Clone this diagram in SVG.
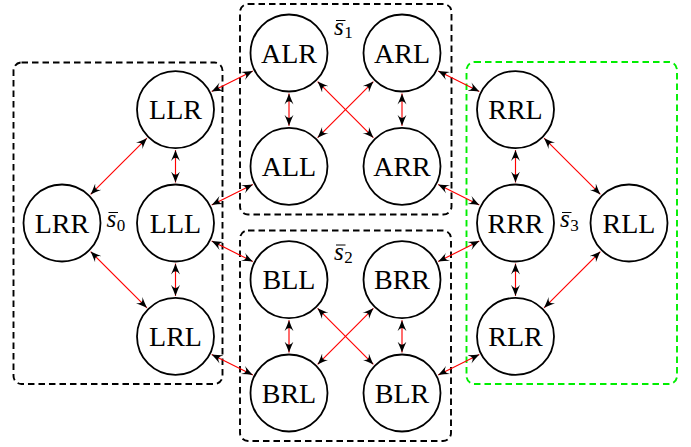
<svg xmlns="http://www.w3.org/2000/svg" width="691" height="447" viewBox="0 0 691 447">
<style>
.n circle{fill:#fff;stroke:#000;stroke-width:1.8}
.n text{font-family:"Liberation Serif","DejaVu Serif",serif;font-size:28px;text-anchor:middle;fill:#000}
.box{fill:none;stroke:#000;stroke-width:1.9;stroke-dasharray:6.5 4}
.box.g{stroke:#00ee00}
#edges line{stroke:#ff0000;stroke-width:1.15;marker-start:url(#ah);marker-end:url(#ah)}
.lbl text{font-family:"Liberation Serif","DejaVu Serif",serif;fill:#000}
.lbl .s{font-style:italic;font-size:25px}
.lbl .sub{font-size:17px}
.lbl line{stroke:#000;stroke-width:1}
</style>
<defs>
<marker id="ah" viewBox="0 0 11 10" refX="11" refY="5" markerWidth="11" markerHeight="10" markerUnits="userSpaceOnUse" orient="auto-start-reverse">
<path d="M11,5 Q5.5,3 0,0.5 Q3.3,3 3.3,5 Q3.3,7 0,9.5 Q5.5,7 11,5 Z" fill="#000"/>
</marker>
</defs>
<g id="groups">
<rect id="box-s0" class="box" x="13.5" y="62.5" width="209" height="321.5" rx="8"/>
<rect id="box-s1" class="box" x="240" y="4" width="211.5" height="210.5" rx="8"/>
<rect id="box-s2" class="box" x="240" y="230.5" width="211" height="210.5" rx="8"/>
<rect id="box-s3" class="box g" x="466.5" y="62" width="210.5" height="322" rx="8"/>
</g>
<g id="edges">
<line x1="90.6" y1="194.4" x2="146.9" y2="138.2"/>
<line x1="90.6" y1="251.6" x2="146.9" y2="307.8"/>
<line x1="175.5" y1="150.1" x2="175.5" y2="182.5"/>
<line x1="175.5" y1="263.5" x2="175.5" y2="295.9"/>
<line x1="211.7" y1="91.5" x2="252.8" y2="71.1"/>
<line x1="211.7" y1="204.9" x2="252.8" y2="184.4"/>
<line x1="211.7" y1="241.1" x2="252.8" y2="261.6"/>
<line x1="211.7" y1="354.5" x2="252.8" y2="374.9"/>
<line x1="289" y1="93.5" x2="289" y2="125.8"/>
<line x1="402" y1="93.5" x2="402" y2="125.8"/>
<line x1="317.6" y1="81.6" x2="373.4" y2="137.7"/>
<line x1="373.4" y1="81.6" x2="317.6" y2="137.7"/>
<line x1="289" y1="320.2" x2="289" y2="352.5"/>
<line x1="402" y1="320.2" x2="402" y2="352.5"/>
<line x1="317.6" y1="308.3" x2="373.4" y2="364.4"/>
<line x1="373.4" y1="308.3" x2="317.6" y2="364.4"/>
<line x1="438.2" y1="71.1" x2="479.3" y2="91.5"/>
<line x1="438.2" y1="184.4" x2="479.3" y2="204.9"/>
<line x1="438.2" y1="261.6" x2="479.3" y2="241.1"/>
<line x1="438.2" y1="374.9" x2="479.3" y2="354.5"/>
<line x1="515.5" y1="150.1" x2="515.5" y2="182.5"/>
<line x1="515.5" y1="263.5" x2="515.5" y2="295.9"/>
<line x1="544.1" y1="138.2" x2="600.4" y2="194.4"/>
<line x1="600.4" y1="251.6" x2="544.1" y2="307.8"/>
</g>
<g id="LRR" class="n"><circle cx="62" cy="223" r="38.5"/><text x="62" y="232.5">LRR</text></g>
<g id="LLR" class="n"><circle cx="175.5" cy="109.6" r="38.5"/><text x="175.5" y="119.1">LLR</text></g>
<g id="LLL" class="n"><circle cx="175.5" cy="223" r="38.5"/><text x="175.5" y="232.5">LLL</text></g>
<g id="LRL" class="n"><circle cx="175.5" cy="336.4" r="38.5"/><text x="175.5" y="345.9">LRL</text></g>
<g id="ALR" class="n"><circle cx="289" cy="53" r="38.5"/><text x="289" y="62.5">ALR</text></g>
<g id="ARL" class="n"><circle cx="402" cy="53" r="38.5"/><text x="402" y="62.5">ARL</text></g>
<g id="ALL" class="n"><circle cx="289" cy="166.3" r="38.5"/><text x="289" y="175.8">ALL</text></g>
<g id="ARR" class="n"><circle cx="402" cy="166.3" r="38.5"/><text x="402" y="175.8">ARR</text></g>
<g id="BLL" class="n"><circle cx="289" cy="279.7" r="38.5"/><text x="289" y="289.2">BLL</text></g>
<g id="BRR" class="n"><circle cx="402" cy="279.7" r="38.5"/><text x="402" y="289.2">BRR</text></g>
<g id="BRL" class="n"><circle cx="289" cy="393" r="38.5"/><text x="289" y="402.5">BRL</text></g>
<g id="BLR" class="n"><circle cx="402" cy="393" r="38.5"/><text x="402" y="402.5">BLR</text></g>
<g id="RRL" class="n"><circle cx="515.5" cy="109.6" r="38.5"/><text x="515.5" y="119.1">RRL</text></g>
<g id="RRR" class="n"><circle cx="515.5" cy="223" r="38.5"/><text x="515.5" y="232.5">RRR</text></g>
<g id="RLR" class="n"><circle cx="515.5" cy="336.4" r="38.5"/><text x="515.5" y="345.9">RLR</text></g>
<g id="RLL" class="n"><circle cx="629" cy="223" r="38.5"/><text x="629" y="232.5">RLL</text></g>
<g id="label-s0" class="lbl"><line x1="108.5" y1="212.5" x2="118" y2="212.5"/><text x="106.5" y="227"><tspan class="s">s</tspan><tspan class="sub" dx="0.5" dy="4">0</tspan></text></g>
<g id="label-s1" class="lbl"><line x1="336" y1="20.5" x2="345.5" y2="20.5"/><text x="334" y="35"><tspan class="s">s</tspan><tspan class="sub" dx="0.5" dy="3">1</tspan></text></g>
<g id="label-s2" class="lbl"><line x1="336" y1="245" x2="345.5" y2="245"/><text x="334" y="259.5"><tspan class="s">s</tspan><tspan class="sub" dx="0.5" dy="3">2</tspan></text></g>
<g id="label-s3" class="lbl"><line x1="562" y1="212.5" x2="571.5" y2="212.5"/><text x="560" y="227"><tspan class="s">s</tspan><tspan class="sub" dx="0.5" dy="4">3</tspan></text></g>
</svg>
